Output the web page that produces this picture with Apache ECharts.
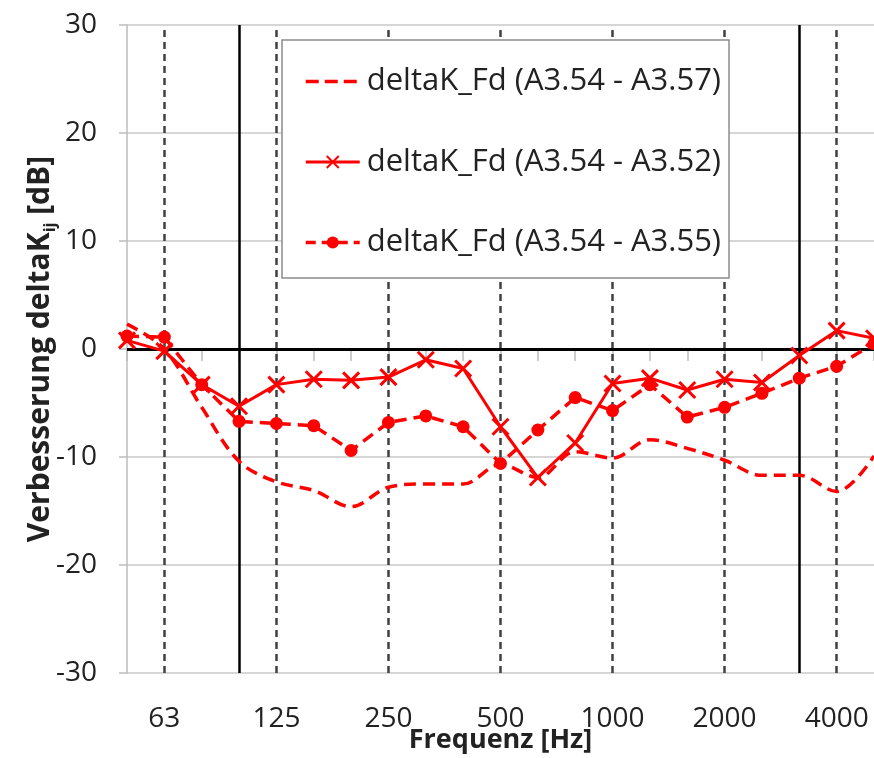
<!DOCTYPE html>
<html>
<head>
<meta charset="utf-8">
<script src="https://cdn.jsdelivr.net/npm/echarts@6/dist/echarts.min.js"></script>
<style>html,body{margin:0;padding:0;background:#fff}#c{width:874px;height:758px}</style>
</head>
<body>
<div id="c"></div>
<script>
const categories = ['50','63','80','100','125','160','200','250','315','400','500','630','800','1000','1250','1600','2000','2500','3150','4000','5000'];
const shownLabels = ['63','125','250','500','1000','2000','4000'];
const solidRefLines = ['100','3150'];
const seriesNames = ['deltaK_Fd (A3.54 - A3.57)','deltaK_Fd (A3.54 - A3.52)','deltaK_Fd (A3.54 - A3.55)'];
const s57 = [2.3, 0.0, -5.4, -10.4, -12.3, -13.1, -14.6, -12.8, -12.5, -12.5, -10.7, -11.9, -9.5, -10.1, -8.4, -9.2, -10.3, -11.7, -11.7, -13.2, -9.9];
const s52 = [0.8, -0.2, -3.3, -5.3, -3.3, -2.8, -2.9, -2.6, -1.0, -1.8, -7.2, -11.9, -8.7, -3.2, -2.7, -3.8, -2.8, -3.1, -0.6, 1.7, 1.0];
const s55 = [1.2, 1.1, -3.3, -6.7, -6.9, -7.1, -9.4, -6.8, -6.2, -7.2, -10.6, -7.5, -4.5, -5.7, -3.3, -6.3, -5.4, -4.1, -2.7, -1.6, 0.5];
const yTicks = {min: -30, max: 30, interval: 10};

const FONT = '"Open Sans", sans-serif';
const RED = '#ff0000';
const crossPath = 'path://M0,0L10,10M10,0L0,10';

const chart = echarts.init(document.getElementById('c'), null, {renderer: 'canvas'});
const refLines = shownLabels.map(c => ({xAxis: c, lineStyle: {type: [7, 5], color: '#404040', width: 2.5}}))
  .concat(solidRefLines.map(c => ({xAxis: c, lineStyle: {type: 'solid', color: '#000', width: 2.5}})))
  .concat([{yAxis: 0, lineStyle: {type: 'solid', color: '#000', width: 3}}]);

chart.setOption({
  animation: false,
  backgroundColor: '#fff',
  textStyle: {fontFamily: FONT},
  grid: {left: 127, right: 0, top: 25, bottom: 85, containLabel: false, outerBoundsMode: 'none'},
  legend: {
    orient: 'vertical', left: 282, top: 40, z: 20,
    padding: [26, 8, 20, 22],
    itemGap: 49.5, itemWidth: 54, itemHeight: 15,
    borderColor: '#8c8c8c', borderWidth: 1.5, backgroundColor: '#fff',
    textStyle: {fontFamily: FONT, fontSize: 31, color: '#222', padding: [0, 0, 0, 2]},
    data: [
      {name: seriesNames[0], itemStyle: {color: 'rgba(0,0,0,0)', borderWidth: 0}, lineStyle: {width: 3.5, type: [13, 6]}},
      {name: seriesNames[1], lineStyle: {width: 3}},
      {name: seriesNames[2], lineStyle: {width: 3.5, type: [10, 6]}}
    ]
  },
  xAxis: {
    type: 'category', data: categories, boundaryGap: false,
    axisLine: {show: true, lineStyle: {color: '#bdbdbd', width: 1.5}},
    axisTick: {show: true, interval: 0, length: 12, lineStyle: {color: '#bdbdbd', width: 1.5}},
    axisLabel: {
      interval: 0, margin: 32, fontSize: 28, color: '#222', fontFamily: FONT,
      formatter: v => shownLabels.includes(v) ? v : ''
    },
    splitLine: {show: false},
    name: 'Frequenz [Hz]', nameLocation: 'middle', nameGap: 54, nameMoveOverlap: false,
    nameTextStyle: {fontSize: 27, fontWeight: 'bold', color: '#222', fontFamily: FONT}
  },
  yAxis: {
    type: 'value', min: yTicks.min, max: yTicks.max, interval: yTicks.interval,
    axisLine: {show: true, lineStyle: {color: '#bdbdbd', width: 1.5}},
    axisTick: {show: true, length: 8, lineStyle: {color: '#bdbdbd', width: 1.5}},
    axisLabel: {fontSize: 28, color: '#222', margin: 30, fontFamily: FONT},
    splitLine: {show: true, lineStyle: {color: '#c8c8c8', width: 1.5}},
    name: '{b|Verbesserung deltaK}{s|ij}{b| [dB]}',
    nameLocation: 'middle', nameRotate: 90, nameGap: 69, nameMoveOverlap: false,
    nameTextStyle: {
      color: '#222', fontFamily: FONT,
      rich: {
        b: {fontSize: 30, fontWeight: 'bold', color: '#222', fontFamily: FONT, lineHeight: 36},
        s: {fontSize: 16, fontWeight: 'bold', color: '#222', fontFamily: FONT, lineHeight: 36, verticalAlign: 'bottom', padding: [14, 0, 0, 0]}
      }
    }
  },
  series: [
    {
      name: '__ref', type: 'line', data: [], z: 1, silent: true,
      markLine: {z: 1, silent: true, symbol: 'none', label: {show: false}, data: refLines, animation: false}
    },
    {
      name: seriesNames[0], type: 'line', data: s57, z: 3, smooth: 0.35,
      showSymbol: false, symbol: 'circle',
      lineStyle: {color: RED, width: 3.5, type: [12, 7]}, itemStyle: {color: RED}
    },
    {
      name: seriesNames[1], type: 'line', data: s52, z: 4,
      symbol: crossPath, symbolSize: 16,
      lineStyle: {color: RED, width: 3, type: 'solid'},
      itemStyle: {color: 'none', borderColor: RED, borderWidth: 3}
    },
    {
      name: seriesNames[2], type: 'line', data: s55, z: 5,
      symbol: 'circle', symbolSize: 13,
      lineStyle: {color: RED, width: 3.5, type: [12, 7]},
      itemStyle: {color: RED, borderWidth: 0}
    }
  ]
});
</script>
</body>
</html>
